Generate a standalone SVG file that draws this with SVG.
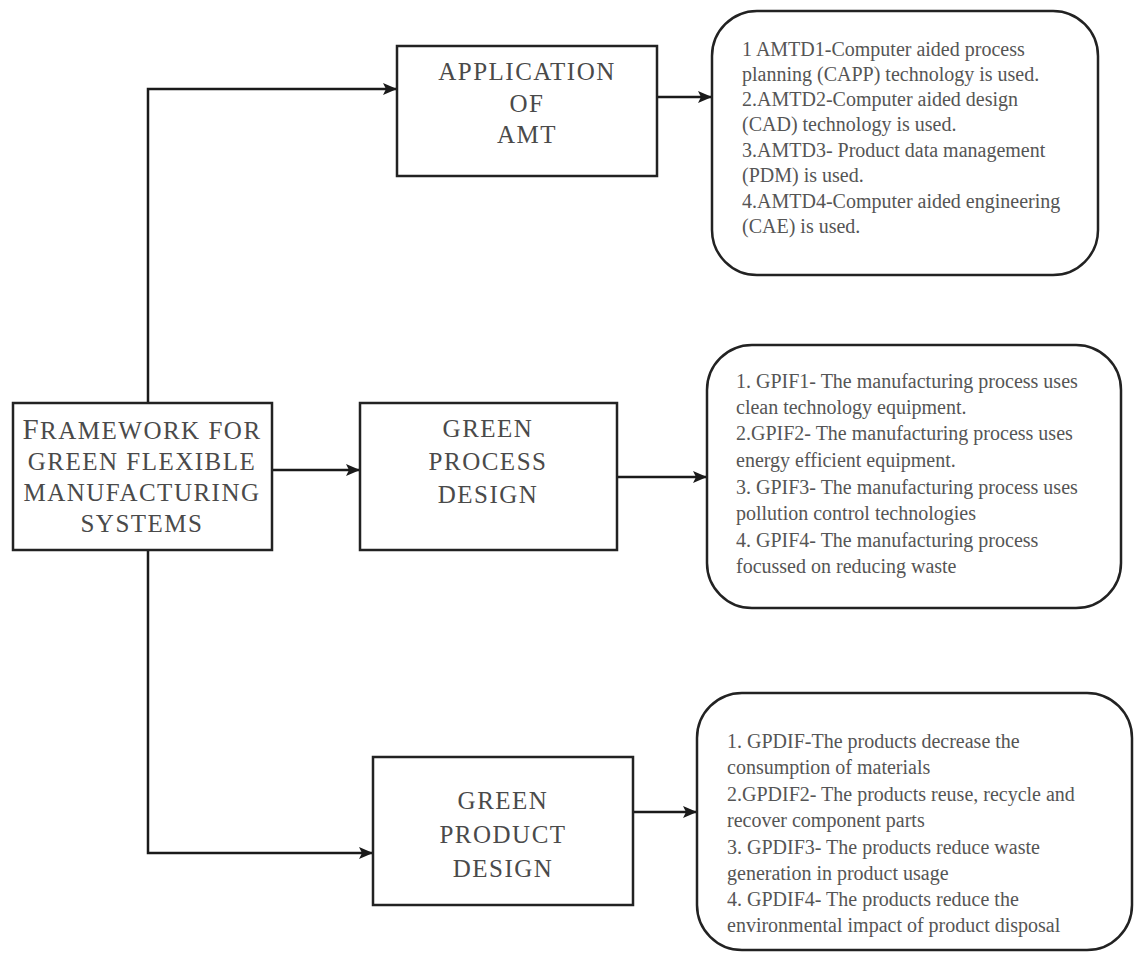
<svg xmlns="http://www.w3.org/2000/svg" width="1135" height="954" viewBox="0 0 1135 954">
<style>
.box{fill:#fff;stroke:#222;stroke-width:2.5}
.rbox{fill:#fff;stroke:#222;stroke-width:2.5}
.conn{fill:none;stroke:#1a1a1a;stroke-width:2.5}
.head{font-family:"Liberation Serif","Times New Roman",serif;font-size:25px;fill:#4a4a4a;text-anchor:middle;letter-spacing:1.5px}
.body{font-family:"Liberation Serif","Times New Roman",serif;font-size:20px;fill:#555}
</style>
<defs>
<marker id="arr" markerWidth="14" markerHeight="12" refX="13" refY="6" orient="auto" markerUnits="userSpaceOnUse">
<path d="M0,0 L14,6 L0,12 L3,6 Z" fill="#1a1a1a"/>
</marker>
</defs>
<g id="connectors">
<path class="conn" d="M148,403 V89 H396" marker-end="url(#arr)"/>
<path class="conn" d="M148,550 V853 H372" marker-end="url(#arr)"/>
<path class="conn" d="M272,470 H359" marker-end="url(#arr)"/>
<path class="conn" d="M657,97 H711" marker-end="url(#arr)"/>
<path class="conn" d="M617,477 H706" marker-end="url(#arr)"/>
<path class="conn" d="M633,812 H696" marker-end="url(#arr)"/>
</g>
<g id="framework">
<rect class="box" x="13" y="403" width="259" height="147"/>
<text class="head" x="142" y="439"><tspan font-size="29">F</tspan>RAMEWORK FOR</text>
<text class="head" x="142" y="470">GREEN FLEXIBLE</text>
<text class="head" x="142" y="501">MANUFACTURING</text>
<text class="head" x="142" y="532">SYSTEMS</text>
</g>
<g id="application">
<rect class="box" x="397" y="46" width="260" height="130"/>
<text class="head" x="527" y="80">APPLICATION</text>
<text class="head" x="527" y="112">OF</text>
<text class="head" x="527" y="143">AMT</text>
</g>
<g id="process">
<rect class="box" x="360" y="403" width="257" height="147"/>
<text class="head" x="488" y="437">GREEN</text>
<text class="head" x="488" y="470">PROCESS</text>
<text class="head" x="488" y="503">DESIGN</text>
</g>
<g id="product">
<rect class="box" x="373" y="757" width="260" height="148"/>
<text class="head" x="503" y="809">GREEN</text>
<text class="head" x="503" y="843">PRODUCT</text>
<text class="head" x="503" y="877">DESIGN</text>
</g>
<g id="amt-list">
<rect class="rbox" x="712" y="11" width="386" height="264" rx="45" ry="45"/>
<text class="body" x="742" y="56">1 AMTD1-Computer aided process</text>
<text class="body" x="742" y="81">planning (CAPP) technology is used.</text>
<text class="body" x="742" y="106">2.AMTD2-Computer aided design</text>
<text class="body" x="742" y="131">(CAD) technology is used.</text>
<text class="body" x="742" y="157">3.AMTD3- Product data management</text>
<text class="body" x="742" y="182">(PDM) is used.</text>
<text class="body" x="742" y="208">4.AMTD4-Computer aided engineering</text>
<text class="body" x="742" y="233">(CAE) is used.</text>
</g>
<g id="gpif-list">
<rect class="rbox" x="707" y="345" width="414" height="263" rx="45" ry="45"/>
<text class="body" x="736" y="388">1. GPIF1- The manufacturing process uses</text>
<text class="body" x="736" y="414">clean technology equipment.</text>
<text class="body" x="736" y="440">2.GPIF2- The manufacturing process uses</text>
<text class="body" x="736" y="467">energy efficient equipment.</text>
<text class="body" x="736" y="494">3. GPIF3- The manufacturing process uses</text>
<text class="body" x="736" y="520">pollution control technologies</text>
<text class="body" x="736" y="547">4. GPIF4- The manufacturing process</text>
<text class="body" x="736" y="573">focussed on reducing waste</text>
</g>
<g id="gpdif-list">
<rect class="rbox" x="697" y="693" width="435" height="257" rx="45" ry="45"/>
<text class="body" x="727" y="748">1. GPDIF-The products decrease the</text>
<text class="body" x="727" y="774">consumption of materials</text>
<text class="body" x="727" y="801">2.GPDIF2- The products reuse, recycle and</text>
<text class="body" x="727" y="827">recover component parts</text>
<text class="body" x="727" y="854">3. GPDIF3- The products reduce waste</text>
<text class="body" x="727" y="880">generation in product usage</text>
<text class="body" x="727" y="906">4. GPDIF4- The products reduce the</text>
<text class="body" x="727" y="932">environmental impact of product disposal</text>
</g>
</svg>
